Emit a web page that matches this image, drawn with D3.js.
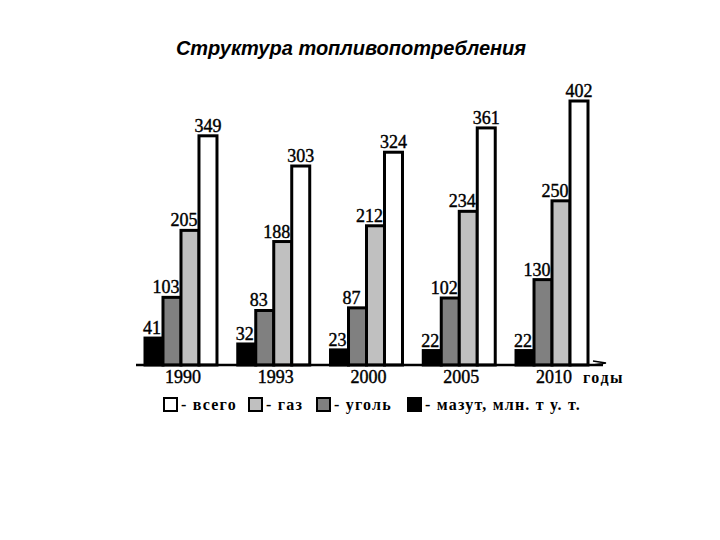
<!DOCTYPE html>
<html>
<head>
<meta charset="utf-8">
<script src="https://cdn.jsdelivr.net/npm/d3@7"></script>
<style>
  body { margin: 0; background: #fff; }
  svg text { fill: #000; }
</style>
</head>
<body>
<svg width="720" height="540"></svg>
<script>
var years = ["1990", "1993", "2000", "2005", "2010"];
var series = ["мазут", "уголь", "газ", "всего"];
var mazut = [41, 32, 23, 22, 22];
var ugol = [103, 83, 87, 102, 130];
var gaz = [205, 188, 212, 234, 250];
var vsego = [349, 303, 324, 361, 402];
var colors = ["#000000", "#808080", "#c0c0c0", "#ffffff"];
var legendLabels = ["- всего", "- газ", "- уголь", "- мазут, млн. т у. т."];
var legendColors = ["#ffffff", "#c0c0c0", "#808080", "#000000"];

var values = [mazut, ugol, gaz, vsego];
var serif = "'Liberation Serif', 'Times New Roman', serif";

var svg = d3.select("svg");

// title
svg.append("text")
    .attr("x", 351)
    .attr("y", 55)
    .attr("text-anchor", "middle")
    .style("font-family", "'Liberation Sans', Arial, sans-serif")
    .style("font-weight", "bold")
    .style("font-style", "italic")
    .style("font-size", "20px")
    .text("Структура топливопотребления");

// set the ranges
var x0 = d3.scaleBand().domain(years).range([145, 588]).paddingInner(0.224).paddingOuter(0);
var x1 = d3.scaleBand().domain(series).range([0, x0.bandwidth()]);
var y = d3.scaleLinear().domain([0, 402]).range([365, 101]);

var data = [];
years.forEach(function (yr, i) {
    series.forEach(function (s, j) {
        data.push({ year: yr, s: s, j: j, value: values[j][i] });
    });
});

svg.append("g").selectAll("rect")
    .data(data)
    .enter().append("rect")
    .attr("x", function (d) { return x0(d.year) + x1(d.s); })
    .attr("y", function (d) { return y(d.value); })
    .attr("width", x1.bandwidth())
    .attr("height", function (d) { return y(0) - y(d.value); })
    .style("fill", function (d) { return colors[d.j]; })
    .style("stroke", "#000")
    .style("stroke-width", 3);

// value labels
svg.append("g").selectAll("text")
    .data(data)
    .enter().append("text")
    .attr("x", function (d) {
        var off = d.j === 3 ? 0 : (d.j === 0 ? -2 : -6);
        return x0(d.year) + x1(d.s) + x1.bandwidth() / 2 + off;
    })
    .attr("y", function (d) { return y(d.value) - 4; })
    .attr("text-anchor", "middle")
    .style("font-family", serif)
    .style("font-size", "18px")
    .style("stroke", "#000").style("stroke-width", 0.4)
    .text(function (d) { return d.value; });

// axis line with arrow
svg.append("line")
    .attr("x1", 136).attr("x2", 603)
    .attr("y1", y(0)).attr("y2", y(0))
    .style("stroke", "#000").style("stroke-width", 2.5);
svg.append("path")
    .attr("d", "M593," + (y(0) - 4) + "L606," + (y(0) - 2) + "L593," + (y(0)))
    .style("fill", "none").style("stroke", "#000").style("stroke-width", 1.5);

// year labels
svg.append("g").selectAll("text")
    .data(years)
    .enter().append("text")
    .attr("x", function (d) { return x0(d) + x0.bandwidth() / 2 + 2; })
    .attr("y", 383)
    .attr("text-anchor", "middle")
    .style("font-family", serif)
    .style("font-size", "18px")
    .style("stroke", "#000").style("stroke-width", 0.4)
    .text(function (d) { return d; });

svg.append("text")
    .attr("x", 583).attr("y", 383)
    .style("font-family", serif)
    .style("font-weight", "bold")
    .style("font-size", "16px")
    .style("letter-spacing", "1.5px")
    .text("годы");

// legend
var legendX = [164, 249, 317, 408];
var legend = svg.append("g").selectAll("g")
    .data(legendLabels)
    .enter().append("g")
    .attr("transform", function (d, i) { return "translate(" + legendX[i] + ",398)"; });

legend.append("rect")
    .attr("width", 13).attr("height", 13)
    .style("fill", function (d, i) { return legendColors[i]; })
    .style("stroke", "#000").style("stroke-width", 2);

legend.append("text")
    .attr("x", 17).attr("y", 12)
    .style("font-family", serif)
    .style("font-weight", "bold")
    .style("font-size", "16px")
    .style("letter-spacing", "1.2px")
    .text(function (d) { return d; });
</script>
</body>
</html>
